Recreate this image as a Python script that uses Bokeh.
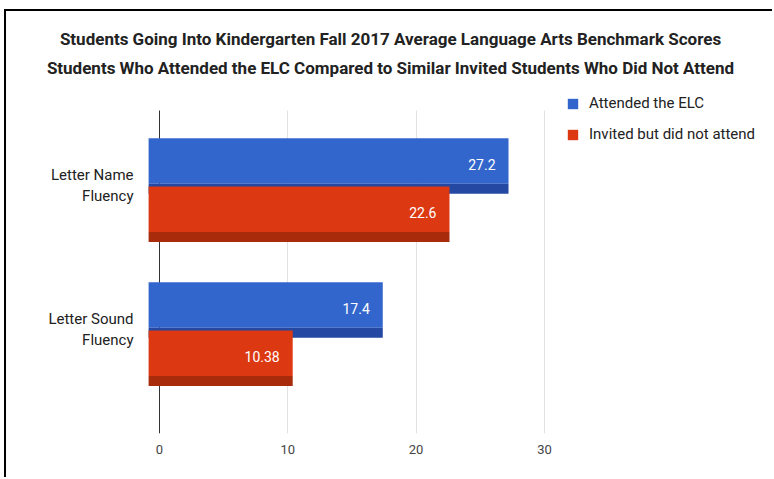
from bokeh.plotting import figure
from bokeh.models import (Range1d, ColumnDataSource, Legend, LegendItem,
                          FixedTicker, Title, Grid)
from bokeh.transform import dodge
from bokeh.core.properties import value
from bokeh.embed import file_html
from bokeh.resources import INLINE

# ---- data ----
categories = ["Letter Name\nFluency", "Letter Sound\nFluency"]
series_names = ["Attended the ELC", "Invited but did not attend"]
attended = [27.2, 17.4]
invited = [22.6, 10.38]
attended_labels = ["27.2", "17.4"]
invited_labels = ["22.6", "10.38"]
x_ticks = [0, 10, 20, 30]
title_lines = ["Students Going Into Kindergarten Fall 2017 Average Language Arts Benchmark Scores",
               "Students Who Attended the ELC Compared to Similar Invited Students Who Did Not Attend"]

colors = ["#3366CC", "#DC3912"]
dark_colors = ["#2549a3", "#a82b0c"]

# categories listed top to bottom -> numeric positions (top = highest)
cat_pos = [len(categories) - 1 - i for i in range(len(categories))]

src = ColumnDataSource(dict(pos=cat_pos, cat=categories, att=attended, inv=invited,
                            att_lab=attended_labels, inv_lab=invited_labels,
                            zero=[0] * len(categories)))

W, H = 768, 468
p = figure(width=W, height=H, output_backend="svg", toolbar_location=None,
           y_range=Range1d(-0.6875, 1.6806),
           x_range=Range1d(-11.925, 47.93),
           min_border_left=0, min_border_right=0, min_border_top=81, min_border_bottom=46)
p.styles = {"margin-left": "4px", "margin-top": "9px",
            "border-left": "2px solid #000000", "border-top": "2px solid #000000"}
p.outline_line_color = None
p.background_fill_color = "white"
p.border_fill_color = "white"

grid_top = 1.5556  # where the vertical grid lines stop at the top

# grid
p.xgrid.ticker = FixedTicker(ticks=x_ticks[1:])
p.xgrid.grid_line_color = "#e2e2e2"
p.ygrid.grid_line_color = None
zero_grid = Grid(dimension=0, ticker=FixedTicker(ticks=[0]), grid_line_color="#333333")
p.add_layout(zero_grid)
if "cross_bounds" in Grid.properties():
    p.xgrid.cross_bounds = (-0.6875, grid_top)
    zero_grid.cross_bounds = (-0.6875, grid_top)

# bars (3D-ish look: bar starts slightly left of zero and has a darker bottom edge)
depth = -0.85
bh = 0.385
strip = 0.07
renderers = []
for key, off, col, dcol in (("att", 0.17, colors[0], dark_colors[0]),
                            ("inv", -0.165, colors[1], dark_colors[1])):
    r = p.hbar(y=dodge("pos", off + strip / 2), height=bh - strip,
               left=dodge("zero", depth), right=key,
               source=src, fill_color=col, line_color=None)
    p.hbar(y=dodge("pos", off - bh / 2 + strip / 2), height=strip,
           left=dodge("zero", depth), right=key,
           source=src, fill_color=dcol, line_color=None)
    renderers.append(r)
    p.text(x=key, y=dodge("pos", off + 0.01), text=key + "_lab", source=src,
           x_offset=-13, text_align="right", text_baseline="middle",
           text_color="white", text_font=value("Roboto"), text_font_size="14px")

# category labels (left of the zero line)
p.text(x="zero", y=dodge("pos", 0.035), text="cat", source=src,
       x_offset=-26, text_align="right", text_baseline="middle",
       text_color="#222222", text_font=value("Roboto"), text_font_size="15px",
       text_line_height=1.15)

# axes
p.xaxis.ticker = FixedTicker(ticks=x_ticks)
p.xaxis.axis_line_color = None
p.xaxis.major_tick_line_color = None
p.xaxis.minor_tick_line_color = None
p.xaxis.major_label_standoff = 5
p.xaxis.major_label_text_font = "Roboto"
p.xaxis.major_label_text_font_size = "13px"
p.xaxis.major_label_text_color = "#444444"
p.yaxis.visible = False

# title: two centred lines (the one added later sits further from the plot)
for text, standoff in ((title_lines[1], 29), (title_lines[0], -14)):
    p.add_layout(Title(text=text, align="center", standoff=standoff,
                       text_font="Roboto", text_font_style="bold", text_font_size="17px",
                       text_color="#222222"), "above")

# legend
legend = Legend(items=[LegendItem(label=series_names[0], renderers=[renderers[0]]),
                       LegendItem(label=series_names[1], renderers=[renderers[1]])],
                location=(560, 290), orientation="vertical",
                glyph_width=13, glyph_height=13, label_standoff=10, spacing=13,
                padding=0, margin=0, border_line_alpha=0, background_fill_alpha=0,
                label_text_font="Roboto", label_text_font_size="15px", label_text_color="#222222")
p.add_layout(legend, "center")

open("out.html", "w").write(file_html(p, INLINE))
